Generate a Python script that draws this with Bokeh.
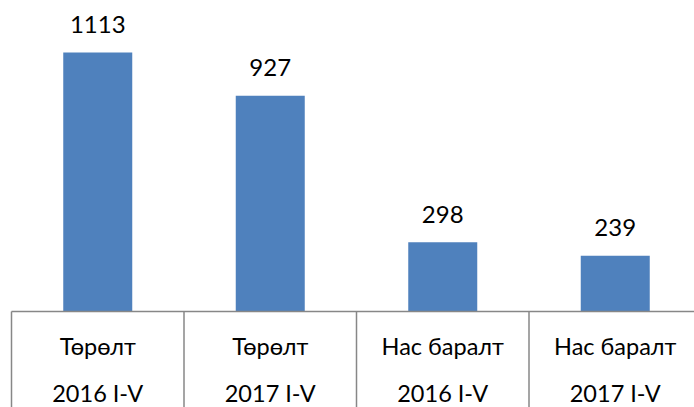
from bokeh.plotting import figure
from bokeh.models import Range1d, ColumnDataSource
from bokeh.core.properties import value
from bokeh.embed import file_html
from bokeh.resources import INLINE

categories = ["Төрөлт", "Төрөлт", "Нас баралт", "Нас баралт"]
periods = ["2016 I-V", "2017 I-V", "2016 I-V", "2017 I-V"]
values = [1113, 927, 298, 239]

n = len(values)
xs = [i + 0.5 for i in range(n)]

# pixel geometry
W, H = 694, 407
cat_px = 172.5
left_px = 11
axis_px = 311
px_per_unit = 0.2328

x_start = -left_px / cat_px
x_end = x_start + W / cat_px
y_top = axis_px / px_per_unit
y_bottom = y_top - H / px_per_unit

p = figure(width=W, height=H, output_backend="svg", toolbar_location=None,
           x_range=Range1d(x_start, x_end), y_range=Range1d(y_bottom, y_top),
           min_border=0)
p.axis.visible = False
p.grid.visible = False
p.outline_line_color = None
p.background_fill_color = "white"
p.border_fill_color = "white"

src = ColumnDataSource(dict(x=xs, top=values, lab=[str(v) for v in values],
                            cat=categories, per=periods))
p.vbar(x="x", top="top", bottom=0, width=0.4, source=src,
       fill_color="#4F81BD", line_color=None)

# category axis line and separators
axis_color = "#878787"
p.segment(x0=[0], y0=[0], x1=[n], y1=[0], line_color=axis_color, line_width=1.5)
p.segment(x0=list(range(n + 1)), y0=[0] * (n + 1), x1=list(range(n + 1)),
          y1=[y_bottom] * (n + 1), line_color=axis_color, line_width=1.5)

font = value("Lato")
p.text(x="x", y="top", text="lab", source=src, text_align="center",
       text_baseline="alphabetic", y_offset=-28, text_font=font,
       text_font_size="24px", text_color="#000000")
p.text(x="x", y=0, text="cat", source=src, text_align="center",
       text_baseline="alphabetic", y_offset=34, text_font=font,
       text_font_size="23.5px", text_color="#000000")
p.text(x="x", y=0, text="per", source=src, text_align="center",
       text_baseline="alphabetic", y_offset=81, text_font=font,
       text_font_size="23.5px", text_color="#000000")

open("out.html", "w").write(file_html(p, INLINE))
